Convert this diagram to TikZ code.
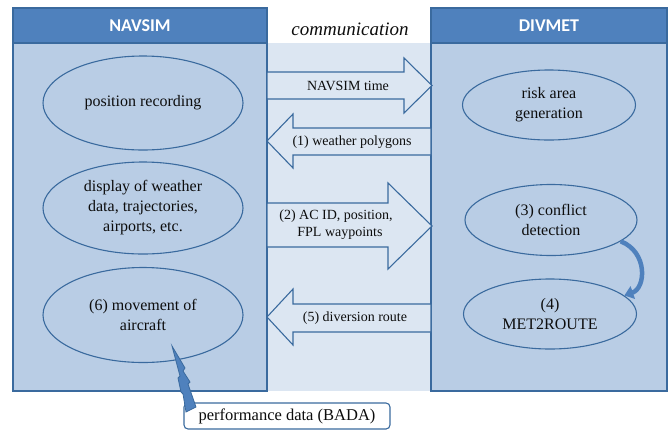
\documentclass[tikz,border=0pt]{standalone}
\usepackage{fontspec}
\setmainfont{Liberation Serif}
\newfontfamily\hdrfont{Carlito}
\usetikzlibrary{arrows.meta,shapes.geometric}
\definecolor{hdr}{HTML}{4F81BD}
\definecolor{panel}{HTML}{B9CDE5}
\definecolor{band}{HTML}{DCE6F2}
\definecolor{edge}{HTML}{3A6A9E}
\definecolor{txt}{HTML}{0D0D0D}
\begin{document}
\begin{tikzpicture}[x=1pt,y=-1pt,
 panelbox/.style={draw=edge, line width=1.3pt, fill=panel},
 hdrbox/.style={draw=edge, line width=1.3pt, fill=hdr},
 oval/.style={ellipse, draw=edge, line width=1.1pt, inner sep=0pt, align=center, text=txt, font=\fontsize{16}{20}\selectfont},
 blockarrow/.style={draw=edge, line width=1.1pt, fill=band, line join=miter},
 arrowtext/.style={font=\fontsize{14}{17}\selectfont, align=center, inner sep=0pt, text=txt},
 hdrtext/.style={font=\hdrfont\bfseries\fontsize{18}{20}\selectfont, text=white},
]
\useasboundingbox (0,0) rectangle (670,432);
\fill[band] (267,43) rectangle (431,391);
\node[font=\itshape\fontsize{19}{22}\selectfont, text=txt] (comm) at (350,29) {communication};
% panels
\draw[panelbox] (13,43) rectangle (267,391);
\draw[hdrbox] (13,8) rectangle (267,43);
\node[hdrtext] (navsim) at (140,26) {NAVSIM};
\draw[panelbox] (431,43) rectangle (667,391);
\draw[hdrbox] (431,8) rectangle (667,43);
\node[hdrtext] (divmet) at (549,26) {DIVMET};
% block arrows
\draw[blockarrow] (267,72) -- (404,72) -- (404,58) -- (432,85.5) -- (404,113) -- (404,99) -- (267,99) -- cycle;
\node[arrowtext] (a0) at (348,86) {NAVSIM time};
\draw[blockarrow] (431,128) -- (293,128) -- (293,114) -- (267,141) -- (293,168) -- (293,155) -- (431,155) -- cycle;
\node[arrowtext] (a1) at (352,142) {(1) weather polygons};
\draw[blockarrow] (267,203) -- (388,203) -- (388,183) -- (432,226) -- (388,269) -- (388,247) -- (267,247) -- cycle;
\node[arrowtext] (a2) at (336,225) {(2) AC ID, position,\\\hspace*{8pt}FPL waypoints};
\draw[blockarrow] (431,304) -- (293,304) -- (293,289) -- (267,317) -- (293,345) -- (293,332) -- (431,332) -- cycle;
\node[arrowtext] (a5) at (355,318) {(5) diversion route};
% ellipses
\node[oval, minimum width=200pt, minimum height=94pt] (pos) at (143,103) {position recording};
\node[oval, minimum width=200pt, minimum height=92pt] (disp) at (143,208) {display of weather\\data, trajectories,\\airports, etc.};
\node[oval, minimum width=200pt, minimum height=95pt] (move) at (143,315) {(6) movement of\\aircraft};
\node[oval, minimum width=173pt, minimum height=70pt] (risk) at (549,105) {risk area\\generation};
\node[oval, minimum width=172pt, minimum height=71pt] (cd) at (551,220) {(3) conflict\\detection};
\node[oval, minimum width=173pt, minimum height=70pt] (met) at (550,314) {(4)\\MET2ROUTE};
% performance box
\node[draw=edge, line width=1.1pt, fill=white, rounded corners=4pt, minimum width=206pt, minimum height=26pt, inner sep=0pt, text=txt, font=\fontsize{16.5}{18}\selectfont] (perf) at (287,416) {performance data (BADA)};
% lightning bolt
\filldraw[fill=hdr, draw=edge, line width=0.8pt, line join=miter] (172,346) -- (185,368) -- (183,371) -- (190,382) -- (188,384) -- (196,407) -- (186,412) -- (183,394) -- (181,392) -- (178,378) -- (180,376) -- cycle;
% curved arrow
\draw[line width=4.5pt, hdr, -{Triangle[length=9pt,width=13pt]}] (cd.-17) .. controls (648,252) and (646,288) .. (met.14);
\end{tikzpicture}
\end{document}
